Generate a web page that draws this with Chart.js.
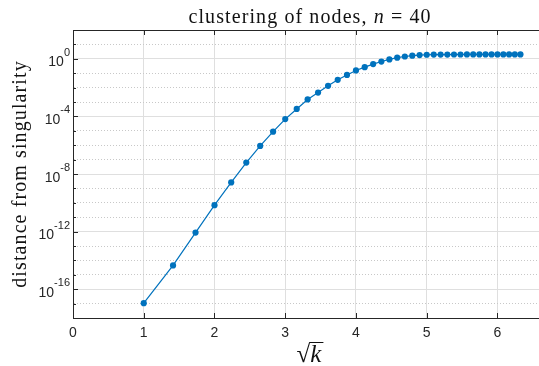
<!DOCTYPE html>
<html><head><meta charset="utf-8">
<script src="https://cdn.jsdelivr.net/npm/chart.js@4/dist/chart.umd.min.js"></script>
<style>
html,body{margin:0;padding:0;background:#fff;overflow:hidden;width:539px;height:366px}
#wrap{width:555px;height:366px}
</style></head>
<body><div id="wrap"><canvas id="c" width="555" height="366"></canvas></div>
<script>
const titleStart = 'clustering of nodes, ';
const titleVar = 'n';
const titleEnd = ' = 40';
const xLabelVar = 'k';
const yLabel = 'distance from singularity';

// x = sqrt(k), k = 1..40
const sqrtK = [1, 1.4142, 1.7321, 2, 2.2361, 2.4495, 2.6458, 2.8284, 3, 3.1623,
  3.3166, 3.4641, 3.6056, 3.7417, 3.8730, 4, 4.1231, 4.2426, 4.3589, 4.4721,
  4.5826, 4.6904, 4.7958, 4.8990, 5, 5.0990, 5.1962, 5.2915, 5.3852, 5.4772,
  5.5678, 5.6569, 5.7446, 5.8310, 5.9161, 6, 6.0828, 6.1644, 6.2450, 6.3246];
const distance = [1.07e-17, 4.47e-15, 8.5e-13, 6.8e-11, 2.6e-9, 6.2e-8, 8.9e-7, 8.7e-6, 6.5e-5, 3.3e-4,
  1.5e-3, 4.5e-3, 1.32e-2, 3.47e-2, 7.6e-2, 0.155, 0.263, 0.427, 0.646, 0.912,
  1.20, 1.45, 1.66, 1.82, 1.91, 1.95, 1.97, 1.98, 1.99, 1.99,
  2.0, 2.0, 2.0, 2.0, 2.0, 2.0, 2.0, 2.0, 2.0, 2.0];

const xTicks = [0, 1, 2, 3, 4, 5, 6];
const yExponents = [2, 1, 0, -1, -2, -3, -4, -5, -6, -7, -8, -9, -10, -11, -12, -13, -14, -15, -16, -17, -18];
const yMajorExponents = [0, -4, -8, -12, -16];
const yTickBase = '10';
const yTickExponentLabels = ['0', '-4', '-8', '-12', '-16'];

const AX = '#262626';
const BLUE = '#0072BD';
const expOf = v => Math.round(Math.log10(v));
const isMajorY = v => yMajorExponents.includes(expOf(v));

const decor = {
  id: 'decor',
  afterDraw(chart) {
    const ctx = chart.ctx, a = chart.chartArea;
    const xs = chart.scales.x, ys = chart.scales.y;
    ctx.save();
    ctx.strokeStyle = AX; ctx.lineWidth = 1;
    // top box line
    ctx.beginPath(); ctx.moveTo(a.left, Math.round(a.top) + 0.5); ctx.lineTo(chart.width, Math.round(a.top) + 0.5); ctx.stroke();
    // inward ticks x
    xTicks.forEach(v => {
      const px = Math.round(xs.getPixelForValue(v)) + 0.5;
      ctx.beginPath();
      ctx.moveTo(px, a.bottom); ctx.lineTo(px, a.bottom - 5);
      ctx.moveTo(px, a.top); ctx.lineTo(px, a.top + 5);
      ctx.stroke();
    });
    // inward ticks y
    yExponents.forEach(e => {
      const py = Math.round(ys.getPixelForValue(Number('1e' + e))) + 0.5;
      const len = yMajorExponents.includes(e) ? 5 : 3;
      ctx.beginPath(); ctx.moveTo(a.left, py); ctx.lineTo(a.left + len, py); ctx.stroke();
    });
    // y tick labels 10^e
    ctx.fillStyle = AX; ctx.textAlign = 'left'; ctx.textBaseline = 'alphabetic';
    yMajorExponents.forEach((e, i) => {
      const gy = ys.getPixelForValue(Number('1e' + e));
      const ex = yTickExponentLabels[i];
      ctx.font = '11px "Liberation Sans", Arial, sans-serif';
      const we = ctx.measureText(ex).width;
      ctx.font = '14px "Liberation Sans", Arial, sans-serif';
      const wb = ctx.measureText(yTickBase).width;
      const right = a.left - 3;
      ctx.fillText(yTickBase, right - we - wb, gy + 7.5);
      ctx.font = '11px "Liberation Sans", Arial, sans-serif';
      ctx.fillText(ex, right - we, gy - 3);
    });
    // title
    const cx = (a.left + a.right) / 2;
    ctx.fillStyle = '#111';
    ctx.letterSpacing = '1.1px';
    const up = '20px "Liberation Serif", serif', it = 'italic 20px "Liberation Serif", serif';
    ctx.font = up; const w1 = ctx.measureText(titleStart).width, w3 = ctx.measureText(titleEnd).width;
    ctx.font = it; const w2 = ctx.measureText(titleVar).width;
    const x0 = cx - (w1 + w2 + w3) / 2;
    ctx.font = up; ctx.fillText(titleStart, x0, 23);
    ctx.font = it; ctx.fillText(titleVar, x0 + w1, 23);
    ctx.font = up; ctx.fillText(titleEnd, x0 + w1 + w2, 23);
    // y label (rotated)
    ctx.save();
    ctx.font = up;
    const wy = ctx.measureText(yLabel).width;
    ctx.translate(26, (a.top + a.bottom) / 2);
    ctx.rotate(-Math.PI / 2);
    ctx.fillText(yLabel, -wy / 2, 0);
    ctx.restore();
    ctx.letterSpacing = '0px';
    // x label sqrt(k)
    const sUp = '25px "Liberation Serif", serif', sIt = 'italic 25px "Liberation Serif", serif';
    ctx.font = sUp; const mr = ctx.measureText('\u221A'); const wr = mr.width;
    ctx.font = sIt; const wk = ctx.measureText(xLabelVar).width;
    const bx = cx - (wr + wk + 2) / 2, by = 362;
    ctx.font = sUp; ctx.fillText('\u221A', bx, by);
    ctx.font = sIt; ctx.fillText(xLabelVar, bx + wr, by);
    const topY = by - mr.actualBoundingBoxAscent + 0.5;
    ctx.strokeStyle = '#111'; ctx.lineWidth = 1;
    ctx.beginPath(); ctx.moveTo(bx + wr - 1, topY); ctx.lineTo(bx + wr + wk + 2, topY); ctx.stroke();
    ctx.restore();
  }
};

new Chart(document.getElementById('c'), {
  type: 'line',
  data: {
    datasets: [{
      data: sqrtK.map((x, i) => ({x, y: distance[i]})),
      borderColor: BLUE, backgroundColor: BLUE,
      borderWidth: 1.2, pointRadius: 3.1, pointBorderWidth: 0,
      pointBackgroundColor: BLUE, tension: 0
    }]
  },
  options: {
    responsive: false, animation: false, devicePixelRatio: 1,
    layout: {padding: {left: 0, right: 8, top: 30, bottom: 0}},
    plugins: {legend: {display: false}, title: {display: false}, tooltip: {enabled: false}},
    scales: {
      x: {
        type: 'linear', min: 0, max: 6.7,
        afterFit: s => { s.height = 48; },
        afterBuildTicks: s => { s.ticks = xTicks.map(v => ({value: v})); },
        ticks: {includeBounds: false, autoSkip: false, maxRotation: 0, padding: 7, color: AX,
          font: {family: '"Liberation Sans", Arial, sans-serif', size: 14}},
        grid: {color: '#dfdfdf', lineWidth: 1, drawTicks: false},
        border: {display: true, color: AX, width: 1}
      },
      y: {
        type: 'logarithmic', min: 1e-18, max: 1e2,
        afterFit: s => { s.width = 73; },
        afterBuildTicks: s => { s.ticks = yExponents.map(e => ({value: Number('1e' + e)})); },
        ticks: {display: false, autoSkip: false},
        grid: {
          drawTicks: false, lineWidth: 1,
          color: c => (c.tick && isMajorY(c.tick.value)) ? '#dfdfdf' : '#c8c8c8'
        },
        border: {display: true, color: AX, width: 1,
          dash: c => (c.tick && !isMajorY(c.tick.value)) ? [1, 2] : []}
      }
    }
  },
  plugins: [decor]
});
</script></body></html>
